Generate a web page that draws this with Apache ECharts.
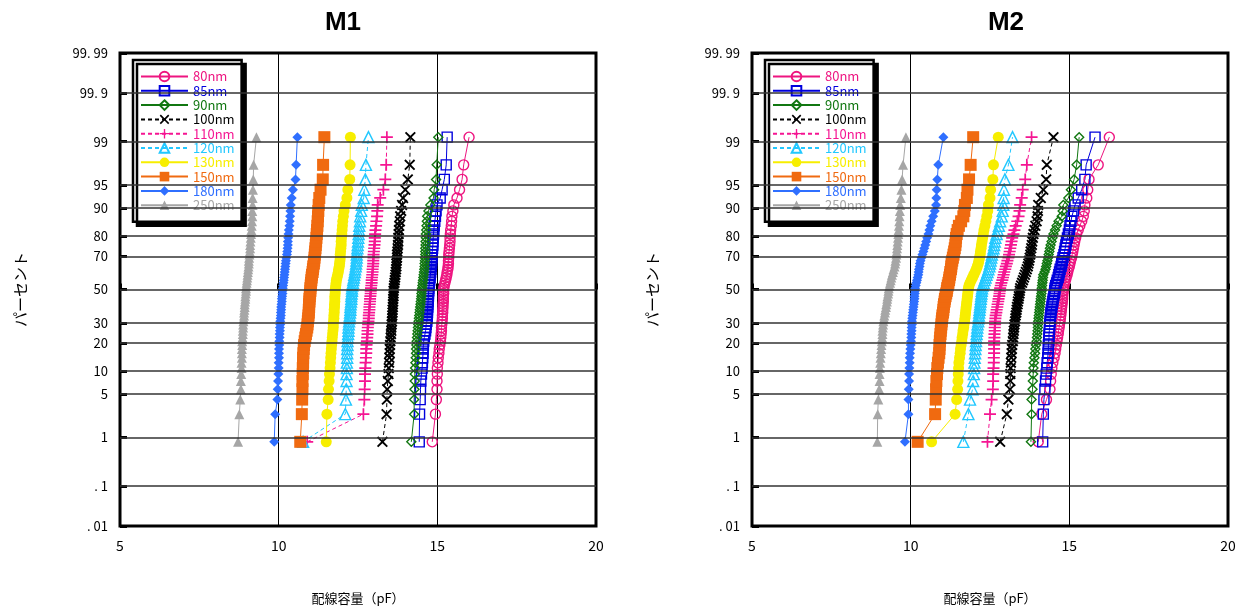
<!DOCTYPE html>
<html>
<head>
<meta charset="utf-8">
<script src="https://cdn.jsdelivr.net/npm/echarts@6/dist/echarts.min.js"></script>
<style>
  html, body { margin: 0; padding: 0; background: #fff; }
  #chart { width: 1244px; height: 610px; }
</style>
</head>
<body>
<div id="chart"></div>
<script>
// Cumulative plotting positions (%) shared by every sample of 60 parts
const plotPercent = [
  0.83, 2.50, 4.17, 5.83, 7.50, 9.17, 10.83, 12.50, 14.17, 15.83,
  17.50, 19.17, 20.83, 22.50, 24.17, 25.83, 27.50, 29.17, 30.83, 32.50,
  34.17, 35.83, 37.50, 39.17, 40.83, 42.50, 44.17, 45.83, 47.50, 49.17,
  50.83, 52.50, 54.17, 55.83, 57.50, 59.17, 60.83, 62.50, 64.17, 65.83,
  67.50, 69.17, 70.83, 72.50, 74.17, 75.83, 77.50, 79.17, 80.83, 82.50,
  84.17, 85.83, 87.50, 89.17, 90.83, 92.50, 94.17, 95.83, 97.50, 99.17
];

// Probability-axis ticks (%) and their printed labels
const probTicks = [0.01, 0.1, 1, 5, 10, 20, 30, 50, 70, 80, 90, 95, 99, 99.9, 99.99];
const probLabels = ['. 01', '. 1', '1', '5', '10', '20', '30', '50', '70', '80', '90', '95', '99', '99. 9', '99. 99'];

const seriesNames = ['80nm', '85nm', '90nm', '100nm', '110nm', '120nm', '130nm', '150nm', '180nm', '250nm'];

// ---- M1 wiring capacitance (pF), sorted, one array per line width ----
const m1_80nm = [
  14.84, 14.94, 14.97, 14.99, 14.99, 15.00, 15.00, 15.02, 15.03, 15.05,
  15.06, 15.08, 15.10, 15.11, 15.12, 15.13, 15.13, 15.14, 15.15, 15.16,
  15.16, 15.17, 15.17, 15.18, 15.18, 15.19, 15.19, 15.19, 15.20, 15.20,
  15.20, 15.22, 15.24, 15.26, 15.28, 15.30, 15.31, 15.33, 15.34, 15.35,
  15.35, 15.36, 15.36, 15.37, 15.38, 15.39, 15.40, 15.40, 15.41, 15.42,
  15.44, 15.45, 15.46, 15.49, 15.52, 15.62, 15.70, 15.78, 15.83, 16.00];
const m1_85nm = [
  14.43, 14.44, 14.46, 14.47, 14.48, 14.50, 14.52, 14.53, 14.54, 14.55,
  14.55, 14.56, 14.57, 14.59, 14.61, 14.63, 14.64, 14.65, 14.67, 14.68,
  14.68, 14.69, 14.69, 14.70, 14.70, 14.71, 14.71, 14.72, 14.72, 14.73,
  14.73, 14.74, 14.75, 14.76, 14.77, 14.78, 14.79, 14.80, 14.81, 14.82,
  14.82, 14.83, 14.83, 14.84, 14.85, 14.86, 14.86, 14.87, 14.88, 14.89,
  14.90, 14.92, 14.94, 14.96, 14.99, 15.09, 15.15, 15.22, 15.28, 15.31];
const m1_90nm = [
  14.18, 14.27, 14.27, 14.28, 14.29, 14.29, 14.30, 14.31, 14.32, 14.33,
  14.33, 14.34, 14.35, 14.36, 14.37, 14.38, 14.39, 14.40, 14.41, 14.42,
  14.43, 14.44, 14.45, 14.46, 14.47, 14.48, 14.49, 14.50, 14.50, 14.51,
  14.52, 14.53, 14.54, 14.55, 14.56, 14.57, 14.58, 14.59, 14.60, 14.60,
  14.61, 14.61, 14.62, 14.62, 14.62, 14.63, 14.63, 14.64, 14.64, 14.65,
  14.66, 14.67, 14.68, 14.72, 14.78, 14.88, 14.90, 14.96, 14.98, 15.03];
const m1_100nm = [
  13.27, 13.40, 13.41, 13.42, 13.44, 13.46, 13.47, 13.48, 13.49, 13.50,
  13.50, 13.51, 13.52, 13.53, 13.54, 13.55, 13.55, 13.56, 13.57, 13.58,
  13.58, 13.59, 13.59, 13.60, 13.60, 13.61, 13.61, 13.62, 13.62, 13.62,
  13.63, 13.64, 13.65, 13.66, 13.67, 13.68, 13.69, 13.70, 13.71, 13.71,
  13.72, 13.73, 13.73, 13.74, 13.75, 13.76, 13.77, 13.77, 13.78, 13.79,
  13.80, 13.82, 13.83, 13.86, 13.89, 13.92, 13.99, 14.07, 14.13, 14.15];
const m1_110nm = [
  10.90, 12.67, 12.70, 12.71, 12.72, 12.72, 12.73, 12.74, 12.75, 12.76,
  12.76, 12.77, 12.78, 12.79, 12.80, 12.80, 12.81, 12.82, 12.83, 12.84,
  12.84, 12.85, 12.86, 12.86, 12.87, 12.88, 12.88, 12.89, 12.90, 12.90,
  12.91, 12.92, 12.93, 12.93, 12.94, 12.95, 12.96, 12.96, 12.97, 12.98,
  12.98, 12.99, 12.99, 13.00, 13.01, 13.02, 13.03, 13.03, 13.04, 13.05,
  13.07, 13.08, 13.10, 13.11, 13.12, 13.20, 13.30, 13.36, 13.39, 13.41];
const m1_120nm = [
  10.77, 12.10, 12.12, 12.13, 12.14, 12.14, 12.15, 12.15, 12.16, 12.16,
  12.16, 12.17, 12.17, 12.18, 12.19, 12.20, 12.20, 12.21, 12.22, 12.23,
  12.24, 12.25, 12.26, 12.26, 12.27, 12.28, 12.29, 12.29, 12.30, 12.31,
  12.31, 12.32, 12.34, 12.35, 12.37, 12.38, 12.40, 12.41, 12.43, 12.44,
  12.45, 12.46, 12.46, 12.47, 12.48, 12.49, 12.50, 12.51, 12.52, 12.53,
  12.54, 12.56, 12.57, 12.60, 12.62, 12.68, 12.70, 12.73, 12.75, 12.83];
const m1_130nm = [
  11.50, 11.52, 11.56, 11.57, 11.59, 11.60, 11.62, 11.63, 11.64, 11.65,
  11.66, 11.67, 11.68, 11.69, 11.70, 11.71, 11.72, 11.72, 11.73, 11.74,
  11.74, 11.75, 11.75, 11.76, 11.76, 11.77, 11.77, 11.77, 11.78, 11.78,
  11.79, 11.80, 11.81, 11.82, 11.84, 11.86, 11.88, 11.89, 11.91, 11.92,
  11.93, 11.94, 11.94, 11.95, 11.96, 11.97, 11.97, 11.98, 11.99, 12.00,
  12.01, 12.02, 12.04, 12.06, 12.10, 12.15, 12.18, 12.24, 12.25, 12.26];
const m1_150nm = [
  10.68, 10.73, 10.74, 10.75, 10.75, 10.76, 10.76, 10.77, 10.77, 10.78,
  10.79, 10.80, 10.82, 10.84, 10.86, 10.88, 10.90, 10.91, 10.92, 10.93,
  10.94, 10.95, 10.95, 10.96, 10.96, 10.97, 10.97, 10.98, 10.99, 11.00,
  11.00, 11.01, 11.02, 11.03, 11.04, 11.05, 11.07, 11.08, 11.09, 11.11,
  11.12, 11.13, 11.14, 11.15, 11.16, 11.17, 11.18, 11.19, 11.20, 11.21,
  11.22, 11.23, 11.24, 11.25, 11.26, 11.28, 11.32, 11.39, 11.40, 11.44];
const m1_180nm = [
  9.86, 9.89, 9.96, 9.97, 9.98, 9.99, 10.00, 10.00, 10.01, 10.01,
  10.01, 10.02, 10.02, 10.03, 10.03, 10.04, 10.04, 10.05, 10.05, 10.06,
  10.07, 10.07, 10.08, 10.08, 10.09, 10.10, 10.10, 10.11, 10.12, 10.12,
  10.13, 10.14, 10.15, 10.16, 10.17, 10.18, 10.19, 10.20, 10.21, 10.22,
  10.23, 10.24, 10.26, 10.27, 10.28, 10.29, 10.29, 10.30, 10.31, 10.32,
  10.34, 10.35, 10.36, 10.37, 10.38, 10.41, 10.45, 10.53, 10.55, 10.59];
const m1_250nm = [
  8.72, 8.76, 8.79, 8.81, 8.81, 8.82, 8.83, 8.83, 8.84, 8.84,
  8.84, 8.85, 8.85, 8.86, 8.87, 8.87, 8.88, 8.88, 8.89, 8.90,
  8.91, 8.91, 8.92, 8.93, 8.93, 8.94, 8.95, 8.95, 8.96, 8.97,
  8.97, 8.98, 8.99, 9.00, 9.01, 9.02, 9.03, 9.04, 9.05, 9.06,
  9.06, 9.07, 9.08, 9.09, 9.10, 9.10, 9.11, 9.12, 9.13, 9.14,
  9.15, 9.16, 9.17, 9.17, 9.18, 9.18, 9.19, 9.20, 9.21, 9.30];

// ---- M2 wiring capacitance (pF) ----
const m2_80nm = [
  14.02, 14.13, 14.28, 14.39, 14.41, 14.43, 14.45, 14.48, 14.52, 14.55,
  14.57, 14.59, 14.61, 14.63, 14.65, 14.66, 14.68, 14.69, 14.71, 14.72,
  14.73, 14.74, 14.75, 14.76, 14.77, 14.78, 14.79, 14.79, 14.80, 14.81,
  14.81, 14.83, 14.85, 14.88, 14.90, 14.93, 14.95, 14.97, 15.00, 15.02,
  15.04, 15.07, 15.09, 15.11, 15.13, 15.15, 15.17, 15.20, 15.23, 15.28,
  15.33, 15.39, 15.44, 15.47, 15.49, 15.55, 15.58, 15.62, 15.91, 16.26];
const m2_85nm = [
  14.16, 14.18, 14.20, 14.23, 14.25, 14.27, 14.29, 14.30, 14.32, 14.33,
  14.34, 14.34, 14.35, 14.36, 14.36, 14.37, 14.38, 14.38, 14.39, 14.40,
  14.41, 14.42, 14.43, 14.45, 14.46, 14.48, 14.49, 14.51, 14.53, 14.54,
  14.55, 14.57, 14.60, 14.62, 14.65, 14.67, 14.69, 14.71, 14.74, 14.76,
  14.78, 14.80, 14.83, 14.85, 14.87, 14.89, 14.91, 14.94, 14.97, 15.00,
  15.02, 15.05, 15.08, 15.13, 15.18, 15.28, 15.39, 15.49, 15.53, 15.81];
const m2_90nm = [
  13.79, 13.81, 13.81, 13.84, 13.85, 13.86, 13.87, 13.88, 13.90, 13.92,
  13.93, 13.95, 13.97, 13.98, 13.99, 14.00, 14.01, 14.01, 14.02, 14.03,
  14.04, 14.05, 14.06, 14.07, 14.08, 14.09, 14.10, 14.11, 14.12, 14.13,
  14.13, 14.14, 14.15, 14.16, 14.17, 14.18, 14.22, 14.25, 14.27, 14.29,
  14.31, 14.33, 14.35, 14.37, 14.39, 14.41, 14.44, 14.47, 14.50, 14.55,
  14.60, 14.66, 14.76, 14.79, 14.81, 14.97, 15.05, 15.15, 15.23, 15.31];
const m2_100nm = [
  12.82, 13.03, 13.08, 13.13, 13.14, 13.14, 13.15, 13.16, 13.17, 13.18,
  13.19, 13.20, 13.22, 13.23, 13.24, 13.25, 13.26, 13.27, 13.29, 13.30,
  13.31, 13.33, 13.34, 13.35, 13.37, 13.38, 13.40, 13.41, 13.43, 13.44,
  13.45, 13.48, 13.51, 13.54, 13.57, 13.60, 13.63, 13.66, 13.69, 13.71,
  13.73, 13.75, 13.77, 13.78, 13.80, 13.82, 13.83, 13.85, 13.87, 13.90,
  13.93, 13.97, 14.00, 14.01, 14.02, 14.10, 14.18, 14.27, 14.29, 14.50];
const m2_110nm = [
  12.42, 12.50, 12.55, 12.59, 12.60, 12.60, 12.61, 12.62, 12.62, 12.63,
  12.63, 12.63, 12.63, 12.64, 12.64, 12.65, 12.65, 12.66, 12.66, 12.67,
  12.68, 12.70, 12.71, 12.73, 12.74, 12.76, 12.77, 12.79, 12.80, 12.81,
  12.82, 12.84, 12.86, 12.89, 12.91, 12.93, 12.95, 12.98, 13.00, 13.03,
  13.05, 13.08, 13.10, 13.12, 13.14, 13.16, 13.18, 13.20, 13.24, 13.27,
  13.31, 13.36, 13.40, 13.43, 13.45, 13.50, 13.53, 13.61, 13.66, 13.81];
const m2_120nm = [
  11.66, 11.82, 11.87, 11.95, 11.97, 11.99, 12.00, 12.01, 12.02, 12.03,
  12.04, 12.05, 12.06, 12.07, 12.08, 12.09, 12.10, 12.11, 12.13, 12.14,
  12.15, 12.16, 12.17, 12.18, 12.19, 12.20, 12.21, 12.22, 12.23, 12.24,
  12.25, 12.27, 12.30, 12.33, 12.36, 12.39, 12.42, 12.45, 12.48, 12.50,
  12.52, 12.54, 12.56, 12.59, 12.61, 12.63, 12.65, 12.67, 12.71, 12.74,
  12.78, 12.82, 12.87, 12.90, 12.92, 12.93, 12.94, 12.97, 13.08, 13.21];
const m2_130nm = [
  10.66, 11.40, 11.45, 11.48, 11.49, 11.50, 11.51, 11.52, 11.54, 11.56,
  11.57, 11.59, 11.61, 11.62, 11.64, 11.65, 11.67, 11.68, 11.70, 11.71,
  11.72, 11.73, 11.74, 11.75, 11.76, 11.77, 11.78, 11.79, 11.80, 11.81,
  11.82, 11.84, 11.87, 11.91, 11.95, 11.99, 12.03, 12.07, 12.10, 12.13,
  12.15, 12.17, 12.19, 12.20, 12.22, 12.23, 12.25, 12.27, 12.29, 12.31,
  12.34, 12.37, 12.40, 12.43, 12.45, 12.50, 12.52, 12.59, 12.61, 12.76];
const m2_150nm = [
  10.22, 10.77, 10.79, 10.80, 10.81, 10.83, 10.84, 10.86, 10.88, 10.90,
  10.91, 10.91, 10.92, 10.93, 10.94, 10.95, 10.96, 10.97, 10.98, 10.99,
  11.00, 11.02, 11.03, 11.04, 11.05, 11.07, 11.08, 11.10, 11.12, 11.14,
  11.15, 11.17, 11.19, 11.21, 11.22, 11.24, 11.25, 11.27, 11.28, 11.29,
  11.31, 11.33, 11.35, 11.37, 11.39, 11.41, 11.42, 11.43, 11.45, 11.48,
  11.52, 11.59, 11.66, 11.69, 11.71, 11.77, 11.79, 11.84, 11.89, 11.97];
const m2_180nm = [
  9.82, 9.93, 9.93, 9.94, 9.95, 9.95, 9.96, 9.97, 9.97, 9.98,
  9.99, 10.00, 10.01, 10.02, 10.02, 10.03, 10.03, 10.04, 10.04, 10.05,
  10.06, 10.07, 10.08, 10.09, 10.10, 10.11, 10.12, 10.12, 10.13, 10.14,
  10.14, 10.16, 10.18, 10.20, 10.22, 10.24, 10.25, 10.26, 10.28, 10.29,
  10.31, 10.34, 10.37, 10.40, 10.43, 10.46, 10.49, 10.52, 10.56, 10.59,
  10.62, 10.66, 10.71, 10.76, 10.80, 10.81, 10.82, 10.84, 10.87, 11.03];
const m2_250nm = [
  8.95, 8.96, 8.98, 9.01, 9.02, 9.02, 9.03, 9.04, 9.05, 9.06,
  9.07, 9.08, 9.09, 9.10, 9.11, 9.11, 9.12, 9.13, 9.14, 9.16,
  9.17, 9.19, 9.20, 9.22, 9.23, 9.25, 9.26, 9.27, 9.29, 9.30,
  9.31, 9.33, 9.35, 9.37, 9.39, 9.41, 9.44, 9.46, 9.49, 9.51,
  9.52, 9.54, 9.55, 9.56, 9.57, 9.58, 9.59, 9.60, 9.61, 9.62,
  9.63, 9.64, 9.65, 9.66, 9.67, 9.69, 9.71, 9.73, 9.76, 9.85];

const m1Samples = [m1_80nm, m1_85nm, m1_90nm, m1_100nm, m1_110nm, m1_120nm, m1_130nm, m1_150nm, m1_180nm, m1_250nm];
const m2Samples = [m2_80nm, m2_85nm, m2_90nm, m2_100nm, m2_110nm, m2_120nm, m2_130nm, m2_150nm, m2_180nm, m2_250nm];

// Marker shapes drawn as filled outlines
const CROSS_X = 'path://M0,1.2L1.2,0L5,3.8L8.8,0L10,1.2L6.2,5L10,8.8L8.8,10L5,6.2L1.2,10L0,8.8L3.8,5Z';
const PLUS = 'path://M4.3,0H5.7V4.3H10V5.7H5.7V10H4.3V5.7H0V4.3H4.3Z';

// Per-series look: colour, marker, hollow marker, dashed line
const looks = [
  { color: '#ee1580', symbol: 'circle',   size: 10, hollow: true,  dash: false },
  { color: '#0000dd', symbol: 'rect',     size: 10, hollow: true,  dash: false },
  { color: '#117711', symbol: 'diamond',  size: 9,  hollow: true,  dash: false },
  { color: '#000000', symbol: CROSS_X,    size: 11, hollow: false, dash: true  },
  { color: '#f51592', symbol: PLUS,       size: 12, hollow: false, dash: true  },
  { color: '#22c8ff', symbol: 'triangle', size: 11, hollow: true,  dash: true  },
  { color: '#f7ee00', symbol: 'circle',   size: 11, hollow: false, dash: false },
  { color: '#f06a10', symbol: 'rect',     size: 12, hollow: false, dash: false },
  { color: '#2f6fff', symbol: 'diamond',  size: 10, hollow: false, dash: false },
  { color: '#a6a6a6', symbol: 'triangle', size: 10, hollow: false, dash: false }
];

// Inverse standard normal CDF (Acklam) for the probability scale
function probit(p) {
  const a = [-3.969683028665376e+01, 2.209460984245205e+02, -2.759285104469687e+02, 1.383577518672690e+02, -3.066479806614716e+01, 2.506628277459239e+00];
  const b = [-5.447609879822406e+01, 1.615858368580409e+02, -1.556989798598866e+02, 6.680131188771972e+01, -1.328068155288572e+01];
  const c = [-7.784894002430293e-03, -3.223964580411365e-01, -2.400758277161838e+00, -2.549671010115146e+00, 4.374664141464968e+00, 2.938163982698783e+00];
  const d = [7.784695709041462e-03, 3.224671290700398e-01, 2.445134137142996e+00, 3.754408661907416e+00];
  const pl = 0.02425;
  if (p < pl) {
    const q = Math.sqrt(-2 * Math.log(p));
    return (((((c[0]*q+c[1])*q+c[2])*q+c[3])*q+c[4])*q+c[5]) / ((((d[0]*q+d[1])*q+d[2])*q+d[3])*q+1);
  }
  if (p > 1 - pl) {
    const q = Math.sqrt(-2 * Math.log(1 - p));
    return -(((((c[0]*q+c[1])*q+c[2])*q+c[3])*q+c[4])*q+c[5]) / ((((d[0]*q+d[1])*q+d[2])*q+d[3])*q+1);
  }
  const q = p - 0.5, r = q * q;
  return (((((a[0]*r+a[1])*r+a[2])*r+a[3])*r+a[4])*r+a[5])*q / (((((b[0]*r+b[1])*r+b[2])*r+b[3])*r+b[4])*r+1);
}

const tickZ = probTicks.map(p => probit(p / 100));
const zMin = tickZ[0], zMax = tickZ[tickZ.length - 1];
const FONT = '"Noto Sans CJK JP", "DejaVu Sans", sans-serif';

function probLabel(v) {
  let best = 0;
  tickZ.forEach((z, i) => { if (Math.abs(z - v) < Math.abs(tickZ[best] - v)) best = i; });
  return probLabels[best];
}

const panels = [
  { left: 120, legendLeft: 133, title: 'M1', titleX: 343, samples: m1Samples },
  { left: 752, legendLeft: 765, title: 'M2', titleX: 1006, samples: m2Samples }
];

const grid = [], xAxis = [], yAxis = [], legend = [], series = [], graphic = [];

panels.forEach((pn, k) => {
  grid.push({
    left: pn.left, top: 53, width: 476, height: 475,
    show: true, borderColor: '#000', borderWidth: 3, backgroundColor: '#fff', z: 0
  });
  xAxis.push({
    type: 'value', gridIndex: k, min: 5, max: 20, interval: 5,
    name: '配線容量（pF）', nameLocation: 'middle', nameGap: 66,
    nameTextStyle: { fontFamily: FONT, fontSize: 13, color: '#000' },
    axisLine: { show: false },
    axisTick: { show: true, inside: true, length: 6, lineStyle: { color: '#000', width: 3 } },
    axisLabel: { fontFamily: FONT, fontSize: 14, color: '#000', margin: 13 },
    splitLine: { show: true, lineStyle: { color: '#000', width: 1 } }
  });
  yAxis.push({
    type: 'value', gridIndex: k, min: zMin, max: zMax,
    name: 'パーセント', nameLocation: 'middle', nameGap: 92,
    nameTextStyle: { fontFamily: FONT, fontSize: 15, color: '#000' },
    axisLine: { show: false },
    axisTick: { show: true, inside: true, length: 7, customValues: tickZ, lineStyle: { color: '#000', width: 3 } },
    axisLabel: { fontFamily: FONT, fontSize: 13, color: '#000', margin: 12, customValues: tickZ, formatter: probLabel },
    splitLine: { show: false }
  });
  legend.push({
    orient: 'vertical', left: pn.legendLeft, top: 60,
    backgroundColor: '#fff', borderColor: '#000', borderWidth: 2.5,
    shadowColor: '#000', shadowOffsetX: 4, shadowOffsetY: 4, shadowBlur: 0,
    padding: [10, 7, 10, 7], itemGap: 1.3, itemWidth: 47, itemHeight: 12,
    selectedMode: false,
    textStyle: { fontFamily: FONT, fontSize: 13, padding: [0, 0, 0, 0] },
    data: seriesNames.map((n, i) => ({ name: n, textStyle: { color: looks[i].color } }))
  });
  // horizontal probability grid lines
  series.push({
    type: 'line', xAxisIndex: k, yAxisIndex: k, data: [], silent: true, z: 1,
    markLine: {
      silent: true, symbol: ['none', 'none'], animation: false,
      label: { show: false },
      lineStyle: { color: '#333', width: 1.5, type: 'solid' },
      emphasis: { disabled: true },
      data: tickZ.slice(1, -1).map(v => ({ yAxis: v }))
    }
  });
  pn.samples.forEach((arr, i) => {
    const lk = looks[i];
    series.push({
      type: 'line', name: seriesNames[i], xAxisIndex: k, yAxisIndex: k, z: 3,
      data: arr.map((x, j) => [x, probit(plotPercent[j] / 100)]),
      symbol: lk.symbol, symbolSize: lk.size, showAllSymbol: true,
      color: lk.color,
      lineStyle: { color: lk.color, width: 1, type: lk.dash ? [4, 3] : 'solid' },
      itemStyle: lk.hollow
        ? { color: 'rgba(255,255,255,0)', borderColor: lk.color, borderWidth: 1.4 }
        : { color: lk.color },
      emphasis: { disabled: true },
      animation: false
    });
  });
  graphic.push({
    type: 'text', x: pn.titleX, y: 23, z: 10,
    style: { text: pn.title, font: 'bold 26px "Liberation Sans", Arial, sans-serif', fill: '#000', align: 'center', verticalAlign: 'middle' }
  });
});

const chart = echarts.init(document.getElementById('chart'), null, { renderer: 'canvas' });
chart.setOption({
  backgroundColor: '#fff',
  animation: false,
  grid, xAxis, yAxis, legend, series, graphic
});
</script>
</body>
</html>
